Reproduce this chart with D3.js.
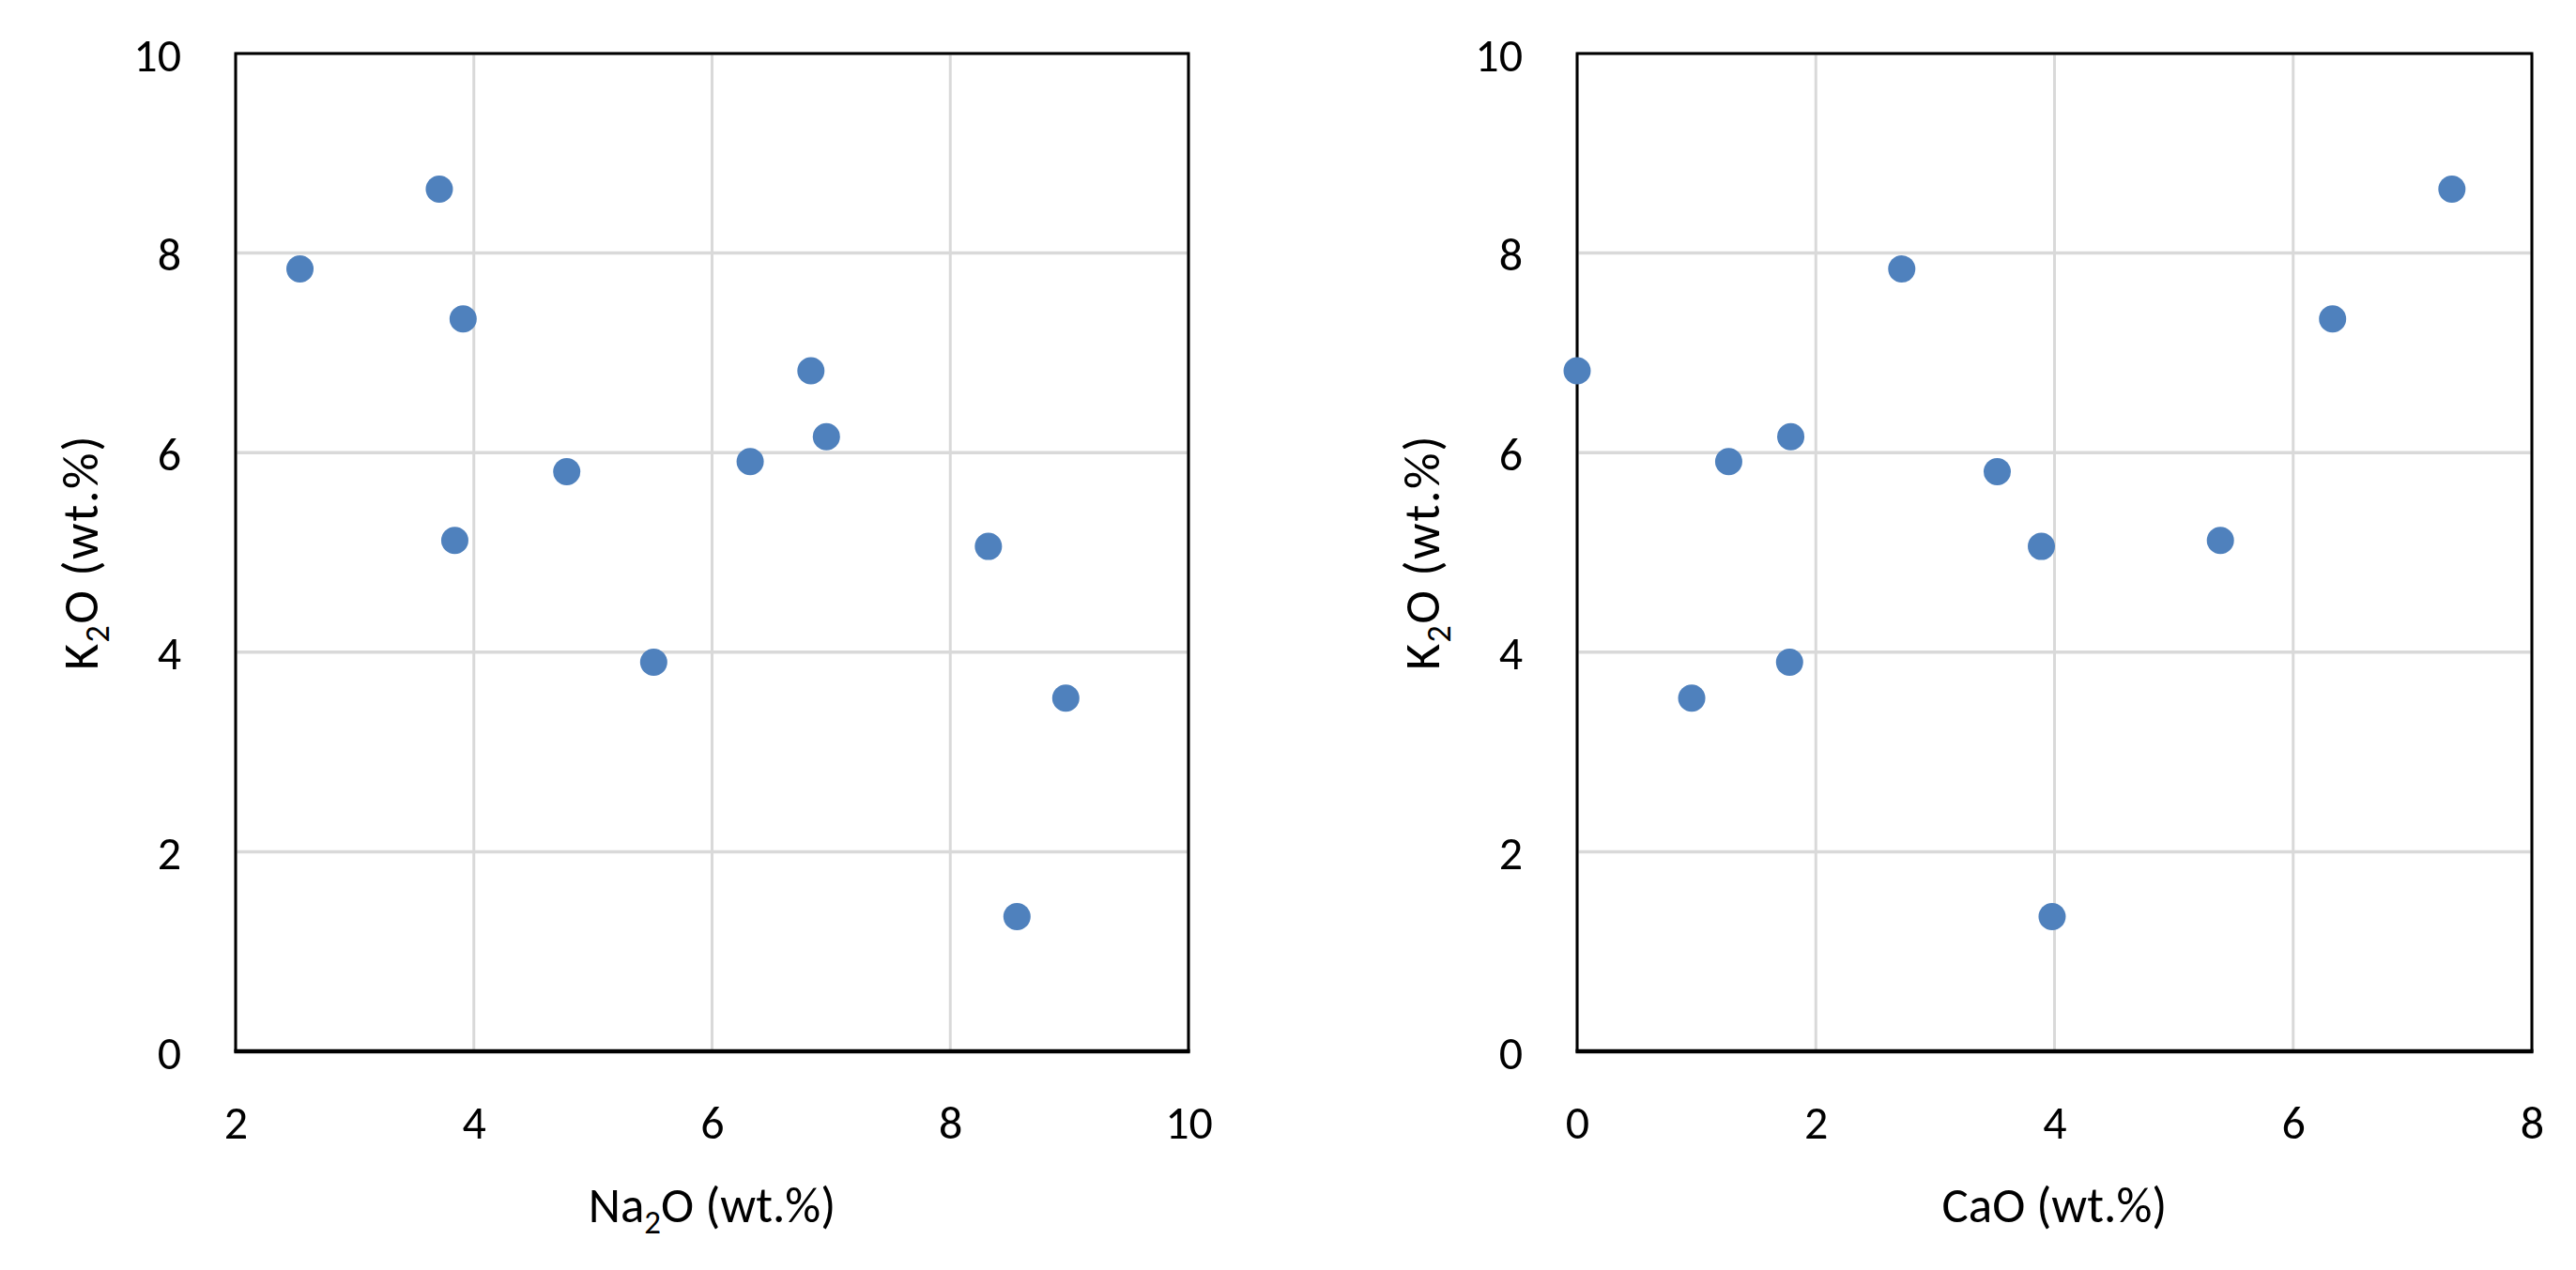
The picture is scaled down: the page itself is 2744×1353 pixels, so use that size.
<!DOCTYPE html>
<meta charset="utf-8">
<script src="https://d3js.org/d3.v7.min.js"></script>
<style>
  body { margin: 0; background: #fff; }
  text { font-family: Carlito, Calibri, Lato, sans-serif; fill: #000; }
</style>
<div id="chart"></div>
<script>

// samples (wt.%)
var k2o  = [8.64, 7.84, 7.34, 6.82, 6.16, 5.91, 5.81, 5.12, 5.06, 3.90, 3.54, 1.35];
var na2o = [3.71, 2.54, 3.91, 6.83, 6.96, 6.32, 4.78, 3.84, 8.32, 5.51, 8.97, 8.56];
var cao  = [7.33, 2.72, 6.33, 0.00, 1.79, 1.27, 3.52, 5.39, 3.89, 1.78, 0.96, 3.98];

var yTicks = [0, 2, 4, 6, 8, 10];
var naTicks = [2, 4, 6, 8, 10];
var caTicks = [0, 2, 4, 6, 8];

var W = 2744, H = 1353;
var plotTop = 57, plotBottom = 1120;

var svg = d3.select("#chart").append("svg")
  .attr("width", W).attr("height", H);

var panels = [
  { left: 251, right: 1266, domain: [2, 10], ticks: naTicks, xs: na2o, label: ["Na", "2", "O (wt.%)"] },
  { left: 1680, right: 2697, domain: [0, 8], ticks: caTicks, xs: cao, label: ["CaO (wt.%)"] }
];

panels.forEach(function(p) {
  var x = d3.scaleLinear().domain(p.domain).range([p.left, p.right]);
  var y = d3.scaleLinear().domain([0, 10]).range([plotBottom, plotTop]);
  var g = svg.append("g");

  // gridlines
  g.selectAll(".vg").data(p.ticks).enter().append("line")
    .attr("x1", d => x(d)).attr("x2", d => x(d))
    .attr("y1", plotTop).attr("y2", plotBottom)
    .attr("stroke", "#d9d9d9").attr("stroke-width", 3);
  g.selectAll(".hg").data(yTicks).enter().append("line")
    .attr("x1", p.left).attr("x2", p.right)
    .attr("y1", d => y(d)).attr("y2", d => y(d))
    .attr("stroke", "#d9d9d9").attr("stroke-width", 3.5);

  // frame
  g.append("rect")
    .attr("x", p.left).attr("y", plotTop)
    .attr("width", p.right - p.left).attr("height", plotBottom - plotTop)
    .attr("fill", "none").attr("stroke", "#000").attr("stroke-width", 3);
  g.append("line")
    .attr("x1", p.left - 1.5).attr("x2", p.right + 1.5)
    .attr("y1", plotBottom).attr("y2", plotBottom)
    .attr("stroke", "#000").attr("stroke-width", 4.5);

  // axes
  var xa = g.append("g").attr("transform", "translate(0," + plotBottom + ")")
    .call(d3.axisBottom(x).tickValues(p.ticks).tickSize(0).tickPadding(57));
  var ya = g.append("g").attr("transform", "translate(" + p.left + ",0)")
    .call(d3.axisLeft(y).tickValues(yTicks).tickSize(0).tickPadding(58));
  [xa, ya].forEach(function(a) {
    a.select(".domain").remove();
    a.selectAll("text").style("font-size", "50px").attr("font-family", null);
  });
  ya.selectAll("text").attr("dy", "0.36em");

  // points
  g.selectAll("circle").data(k2o).enter().append("circle")
    .attr("cx", (d, i) => x(p.xs[i]))
    .attr("cy", d => y(d))
    .attr("r", 14.5)
    .attr("fill", "#4f81bd");

  // x title
  var xt = g.append("text")
    .attr("x", (p.left + p.right) / 2).attr("y", 1302)
    .attr("text-anchor", "middle").style("font-size", "53px");
  if (p.label.length === 3) {
    xt.append("tspan").text(p.label[0]);
    xt.append("tspan").attr("dy", 12).style("font-size", "35px").text(p.label[1]);
    xt.append("tspan").attr("dy", -12).text(p.label[2]);
  } else {
    xt.text(p.label[0]);
  }

  // y title
  var yt = g.append("text")
    .attr("transform", "translate(" + (p.left - 147) + "," + ((plotTop + plotBottom) / 2) + ") rotate(-90)")
    .attr("text-anchor", "middle").style("font-size", "54px")
    .attr("letter-spacing", 1.5);
  yt.append("tspan").text("K");
  yt.append("tspan").attr("dy", 12).style("font-size", "36px").text("2");
  yt.append("tspan").attr("dy", -12).text("O (wt.%)");
});

</script>
